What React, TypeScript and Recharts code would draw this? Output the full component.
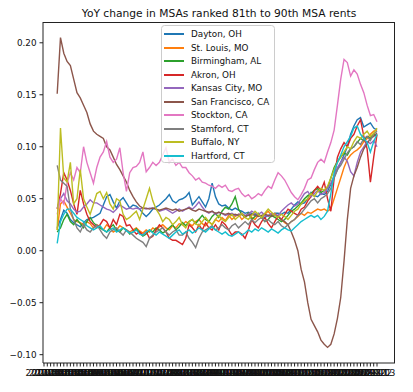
import { LineChart, Line, XAxis, YAxis } from "recharts"

const FONT = "'DejaVu Sans', sans-serif"
const TITLE = "YoY change in MSAs ranked 81th to 90th MSA rents"

// monthly categories 2014-10 .. 2023-03; the first LEAD months have no YoY value yet
const FIRST_YEAR = 2014
const FIRST_MONTH = 10
const N_MONTHS = 102
const LEAD = 4
const months = Array.from({ length: N_MONTHS }, (_, k) => {
  const m = FIRST_MONTH - 1 + k
  return `${FIRST_YEAR + Math.floor(m / 12)}-${String((m % 12) + 1).padStart(2, "0")}`
})

const Y_TICKS = [-0.1, -0.05, 0, 0.05, 0.1, 0.15, 0.2]

const dayton = [
  .022, .030, .039, .036, .030, .027, .025, .023, .027, .030,
  .031, .032, .034, .036, .044, .052, .054, .047, .041, .048,
  .051, .046, .041, .044, .043, .040, .036, .033, .036, .040,
  .042, .044, .047, .050, .054, .048, .046, .049, .050, .052,
  .056, .044, .048, .052, .047, .042, .050, .065, .052, .045,
  .043, .044, .041, .039, .041, .039, .038, .036, .037, .036,
  .035, .034, .033, .032, .034, .035, .036, .036, .035, .037,
  .036, .040, .044, .047, .045, .046, .050, .056, .053, .052,
  .055, .054, .057, .064, .071, .078, .085, .092, .100, .112,
  .120, .126, .128, .119, .121, .123, .118, .116,
]
const stLouis = [
  .020, .045, .048, .042, .036, .030, .028, .027, .025, .028,
  .026, .022, .025, .023, .020, .025, .022, .018, .020, .024,
  .022, .020, .018, .020, .022, .019, .017, .020, .018, .022,
  .020, .023, .025, .022, .020, .024, .022, .026, .025, .028,
  .026, .024, .028, .030, .026, .024, .028, .025, .030, .028,
  .032, .029, .034, .030, .033, .035, .030, .033, .036, .032,
  .030, .034, .032, .035, .038, .034, .036, .033, .030, .027,
  .025, .028, .030, .033, .036, .034, .037, .036, .038, .040,
  .039, .040, .038, .040, .050, .060, .070, .080, .088, .092,
  .095, .097, .100, .105, .108, .112, .115, .116,
]
const birmingham = [
  .018, .022, .030, .035, .028, .025, .030, .026, .022, .028,
  .032, .027, .024, .022, .020, .018, .022, .025, .020, .018,
  .022, .020, .016, .018, .021, .017, .014, .016, .020, .018,
  .022, .020, .017, .019, .022, .025, .020, .023, .027, .024,
  .028, .030, .026, .030, .034, .030, .028, .033, .036, .032,
  .038, .042, .040, .045, .052, .040, .035, .032, .036, .030,
  .033, .036, .032, .028, .030, .034, .032, .030, .028, .030,
  .034, .038, .040, .043, .046, .050, .053, .055, .058, .060,
  .056, .058, .060, .070, .080, .086, .090, .094, .092, .098,
  .100, .104, .108, .106, .110, .108, .112, .110,
]
const akron = [
  .040, .055, .075, .068, .058, .045, .035, .058, .045, .035,
  .028, .025, .022, .025, .030, .028, .022, .030, .025, .035,
  .033, .024, .025, .020, .016, .018, .015, .018, .012, .014,
  .020, .025, .022, .018, .012, .010, .010, .008, .006, .012,
  .025, .022, .018, .025, .020, .027, .022, .020, .025, .020,
  .028, .025, .020, .015, .018, .018, .016, .012, .020, .030,
  .025, .022, .028, .032, .026, .022, .028, .033, .030, .035,
  .040, .038, .036, .034, .040, .042, .048, .052, .058, .062,
  .058, .066, .050, .038, .070, .090, .098, .104, .100, .108,
  .112, .120, .126, .110, .098, .066, .090, .112,
]
const kansasCity = [
  .041, .050, .055, .048, .045, .040, .037, .038, .042, .045,
  .049, .046, .046, .044, .042, .040, .039, .037, .040, .044,
  .042, .040, .041, .040, .041, .040, .041, .040, .041, .041,
  .040, .038, .039, .040, .038, .036, .038, .040, .038, .040,
  .042, .040, .043, .047, .042, .038, .036, .038, .035, .037,
  .036, .034, .035, .036, .034, .035, .036, .034, .035, .038,
  .036, .035, .037, .034, .033, .036, .035, .034, .038, .041,
  .044, .046, .043, .045, .050, .055, .057, .052, .055, .058,
  .054, .056, .060, .065, .072, .080, .085, .090, .086, .076,
  .072, .085, .095, .100, .105, .103, .106, .100,
]
const sanFrancisco = [
  .151, .205, .190, .182, .178, .165, .152, .147, .140, .133,
  .122, .115, .112, .110, .108, .100, .097, .090, .083, .078,
  .072, .066, .058, .052, .047, .043, .041, .041, .040, .041,
  .040, .039, .040, .041, .040, .039, .040, .038, .039, .040,
  .041, .039, .038, .040, .039, .038, .037, .038, .036, .037,
  .036, .035, .036, .034, .035, .034, .035, .033, .034, .035,
  .034, .033, .034, .035, .034, .033, .034, .033, .030, .028,
  .025, .018, .010, .000, -.018, -.030, -.050, -.066, -.072, -.078,
  -.086, -.090, -.093, -.090, -.080, -.065, -.045, -.010, .030, .060,
  .072, .080, .090, .098, .103, .108, .110, .113,
]
const stockton = [
  .035, .050, .045, .065, .075, .068, .080, .075, .100, .085,
  .075, .065, .080, .090, .095, .105, .090, .085, .088, .099,
  .075, .057, .075, .080, .081, .085, .095, .076, .080, .085,
  .082, .085, .092, .099, .085, .088, .082, .085, .080, .080,
  .075, .072, .068, .070, .066, .065, .063, .062, .060, .063,
  .061, .063, .058, .057, .059, .060, .055, .052, .054, .050,
  .052, .055, .053, .058, .062, .060, .068, .075, .072, .068,
  .062, .056, .052, .049, .054, .060, .068, .070, .078, .085,
  .088, .085, .095, .104, .116, .140, .165, .184, .181, .168,
  .174, .170, .160, .152, .140, .130, .131, .124,
]
const stamford = [
  .082, .068, .065, .062, .040, .030, .022, .018, .025, .020,
  .018, .022, .025, .020, .015, .012, .018, .020, .022, .018,
  .015, .020, .018, .015, .012, .010, .008, .004, .012, .015,
  .018, .020, .022, .018, .015, .018, .020, .015, .015, .018,
  .012, .008, .003, .012, .018, .020, .022, .024, .020, .022,
  .025, .022, .020, .024, .026, .022, .025, .028, .025, .030,
  .027, .030, .032, .028, .030, .027, .025, .028, .024, .022,
  .025, .028, .030, .034, .036, .040, .044, .048, .050, .046,
  .050, .052, .055, .060, .070, .078, .082, .088, .094, .098,
  .100, .105, .102, .108, .110, .106, .112, .115,
]
const buffalo = [
  .020, .118, .070, .066, .085, .045, .050, .078, .050, .042,
  .035, .045, .055, .057, .050, .056, .045, .040, .050, .048,
  .035, .030, .032, .035, .038, .030, .040, .050, .060, .048,
  .040, .035, .028, .032, .030, .025, .028, .032, .025, .022,
  .028, .030, .026, .024, .028, .032, .028, .025, .030, .034,
  .030, .028, .032, .035, .030, .033, .036, .032, .030, .034,
  .038, .035, .032, .036, .040, .037, .034, .032, .035, .033,
  .030, .034, .038, .040, .045, .048, .050, .055, .052, .057,
  .060, .058, .062, .070, .078, .085, .090, .095, .100, .098,
  .105, .110, .108, .112, .115, .110, .113, .118,
]
const hartford = [
  .007, .028, .035, .040, .040, .036, .032, .030, .028, .024,
  .022, .020, .022, .024, .020, .018, .020, .022, .018, .020,
  .022, .019, .017, .018, .020, .016, .015, .018, .020, .017,
  .015, .018, .016, .014, .012, .015, .018, .020, .016, .018,
  .020, .017, .019, .022, .020, .018, .021, .023, .020, .018,
  .016, .018, .015, .014, .016, .018, .015, .017, .020, .018,
  .021, .019, .022, .020, .018, .021, .019, .017, .020, .022,
  .020, .019, .022, .025, .028, .030, .032, .034, .032, .034,
  .030, .033, .038, .055, .075, .085, .092, .100, .105, .110,
  .118, .120, .112, .108, .104, .095, .105, .112,
]

const SERIES = [
  { key: "dayton", name: "Dayton, OH", color: "#1f77b4", values: dayton },
  { key: "stLouis", name: "St. Louis, MO", color: "#ff7f0e", values: stLouis },
  { key: "birmingham", name: "Birmingham, AL", color: "#2ca02c", values: birmingham },
  { key: "akron", name: "Akron, OH", color: "#d62728", values: akron },
  { key: "kansasCity", name: "Kansas City, MO", color: "#9467bd", values: kansasCity },
  { key: "sanFrancisco", name: "San Francisco, CA", color: "#8c564b", values: sanFrancisco },
  { key: "stockton", name: "Stockton, CA", color: "#e377c2", values: stockton },
  { key: "stamford", name: "Stamford, CT", color: "#7f7f7f", values: stamford },
  { key: "buffalo", name: "Buffalo, NY", color: "#bcbd22", values: buffalo },
  { key: "hartford", name: "Hartford, CT", color: "#17becf", values: hartford },
]

const rows = months.map((month, k) => {
  const row: Record<string, string | number | null> = { month }
  SERIES.forEach((s) => {
    row[s.key] = k < LEAD ? null : s.values[k - LEAD] ?? null
  })
  return row
})

function fmtY(v: number) {
  if (v === 0) return "0.00"
  return v < 0 ? `\u2212${Math.abs(v).toFixed(2)}` : v.toFixed(2)
}

const tickStyle = { fontSize: 8.8, fill: "#111", fontFamily: FONT }
const axisStroke = { stroke: "#222" }

// plot box (matches the chart margins below)
const PLOT = { left: 43, top: 22, width: 352, height: 341 }

export default function App() {
  return (
    <div style={{ position: "absolute", left: 0, top: 0, width: 413, height: 392, background: "#fff", fontFamily: FONT }}>
      <div
        style={{
          position: "absolute", left: 43, top: 6.5, width: 352, textAlign: "center",
          fontSize: 10.7, lineHeight: "14px", color: "#111", whiteSpace: "nowrap",
        }}
      >
        {TITLE}
      </div>
      <LineChart width={413} height={392} data={rows} margin={{ top: 22, right: 18, bottom: 9, left: 0 }}>
        <XAxis
          dataKey="month"
          interval={0}
          height={20}
          tickSize={3.5}
          tickMargin={3}
          padding={{ left: 1, right: 18 }}
          tick={tickStyle}
          axisLine={axisStroke}
          tickLine={axisStroke}
        />
        <YAxis
          type="number"
          domain={[-0.108, 0.22]}
          allowDataOverflow
          ticks={Y_TICKS}
          tickFormatter={fmtY}
          width={43}
          tickSize={3.5}
          tickMargin={3}
          tick={tickStyle}
          axisLine={axisStroke}
          tickLine={axisStroke}
        />
        {SERIES.map((s) => (
          <Line
            key={s.key}
            type="linear"
            dataKey={s.key}
            name={s.name}
            stroke={s.color}
            strokeWidth={1.4}
            dot={false}
            isAnimationActive={false}
          />
        ))}
      </LineChart>
      {/* top and right spines */}
      <div
        style={{
          position: "absolute", left: PLOT.left, top: PLOT.top, width: PLOT.width, height: PLOT.height,
          boxSizing: "border-box", borderTop: "1px solid #222", borderRight: "1px solid #222",
          pointerEvents: "none",
        }}
      />
      <svg
        width={114}
        height={138}
        style={{ position: "absolute", left: 161, top: 25 }}
      >
        <rect x={0.5} y={0.5} width={113} height={137} rx={3} fill="rgba(255,255,255,0.8)" stroke="#ccc" />
        {SERIES.map((s, i) => {
          const y = Math.round(9 + i * 13.5)
          return (
            <g key={s.key}>
              <line x1={3} x2={23} y1={y} y2={y} stroke={s.color} strokeWidth={2} />
              <text x={30} y={y} dy="0.35em" fontSize={8.8} fill="#111" fontFamily={FONT}>{s.name}</text>
            </g>
          )
        })}
      </svg>
    </div>
  )
}
